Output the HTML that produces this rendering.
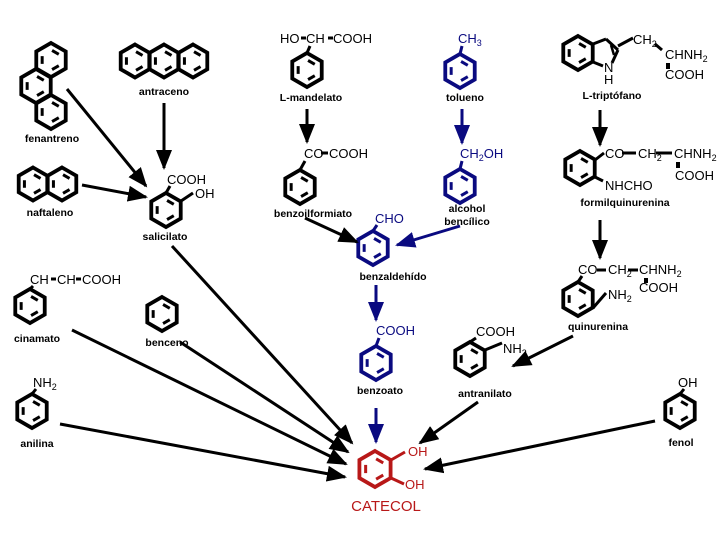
<!DOCTYPE html>
<html><head><meta charset="utf-8"><style>
body{margin:0;background:#fff}
svg text{font-family:"Liberation Sans",Arial,sans-serif}
.f{font-size:13px}
.l{font-size:10.5px;font-weight:bold}
</style></head><body>
<svg id="s" width="720" height="540" viewBox="0 0 720 540" xmlns="http://www.w3.org/2000/svg">
<defs>
<marker id="ak" markerUnits="userSpaceOnUse" markerWidth="20" markerHeight="16" refX="18" refY="8" orient="auto"><path d="M0,0 L20,8 L0,16 Z" fill="#000"/></marker>
<marker id="ab" markerUnits="userSpaceOnUse" markerWidth="20" markerHeight="16" refX="18" refY="8" orient="auto"><path d="M0,0 L20,8 L0,16 Z" fill="#0a0a80"/></marker>
</defs>
<g id="g"></g>
<g fill="#000">
<text class="l" x="164" y="95" text-anchor="middle">antraceno</text>
<text class="l" x="52" y="142" text-anchor="middle">fenantreno</text>
<text class="l" x="50" y="216" text-anchor="middle">naftaleno</text>
<text class="l" x="165" y="240" text-anchor="middle">salicilato</text>
<text class="f" x="167" y="184">COOH</text>
<text class="f" x="195" y="198">OH</text>
<text class="f" x="280" y="43">HO</text><text class="f" x="306" y="43">CH</text><text class="f" x="333" y="43">COOH</text>
<text class="l" x="311" y="101" text-anchor="middle">L-mandelato</text>
<text class="f" x="304" y="158">CO</text><text class="f" x="329" y="158">COOH</text>
<text class="l" x="313" y="217" text-anchor="middle">benzoilformiato</text>
<text class="l" x="465" y="101" text-anchor="middle">tolueno</text>
<text class="l" x="467" y="212" text-anchor="middle">alcohol</text>
<text class="l" x="467" y="225" text-anchor="middle">bencílico</text>
<text class="l" x="393" y="280" text-anchor="middle">benzaldehído</text>
<text class="l" x="380" y="394" text-anchor="middle">benzoato</text>
<text class="l" x="485" y="397" text-anchor="middle">antranilato</text>
<text class="f" x="476" y="336">COOH</text><text class="f" x="503" y="353">NH<tspan font-size="9" dy="3">2</tspan></text>
<text class="f" x="604" y="72">N</text>
<text class="f" x="604" y="84">H</text>
<text class="f" x="633" y="44">CH<tspan font-size="9" dy="3">2</tspan></text>
<text class="f" x="665" y="59">CHNH<tspan font-size="9" dy="3">2</tspan></text>
<text class="f" x="665" y="79">COOH</text>
<text class="l" x="612" y="99" text-anchor="middle">L-triptófano</text>
<text class="f" x="605" y="158">CO</text><text class="f" x="638" y="158">CH<tspan font-size="9" dy="3">2</tspan></text><text class="f" x="674" y="158">CHNH<tspan font-size="9" dy="3">2</tspan></text>
<text class="f" x="675" y="180">COOH</text>
<text class="f" x="605" y="190">NHCHO</text>
<text class="l" x="625" y="206" text-anchor="middle">formilquinurenina</text>
<text class="f" x="578" y="274">CO</text><text class="f" x="608" y="274">CH<tspan font-size="9" dy="3">2</tspan></text><text class="f" x="639" y="274">CHNH<tspan font-size="9" dy="3">2</tspan></text>
<text class="f" x="639" y="292">COOH</text>
<text class="f" x="608" y="299">NH<tspan font-size="9" dy="3">2</tspan></text>
<text class="l" x="598" y="330" text-anchor="middle">quinurenina</text>
<text class="f" x="678" y="387">OH</text>
<text class="l" x="681" y="446" text-anchor="middle">fenol</text>
<text class="f" x="30" y="284">CH</text><text class="f" x="57" y="284">CH</text><text class="f" x="82" y="284">COOH</text>
<text class="l" x="37" y="342" text-anchor="middle">cinamato</text>
<text class="l" x="167" y="346" text-anchor="middle">benceno</text>
<text class="f" x="33" y="387">NH<tspan font-size="9" dy="3">2</tspan></text>
<text class="l" x="37" y="447" text-anchor="middle">anilina</text>
</g>
<g fill="#0a0a80">
<text class="f" x="458" y="43">CH<tspan font-size="9" dy="3">3</tspan></text>
<text class="f" x="460" y="158">CH<tspan font-size="9" dy="3">2</tspan><tspan dy="-3">OH</tspan></text>
<text class="f" x="375" y="223">CHO</text>
<text class="f" x="376" y="335">COOH</text>
</g>
<g fill="#b81818">
<text class="f" x="408" y="456">OH</text>
<text class="f" x="405" y="489">OH</text>
<text x="386" y="511" font-size="15" text-anchor="middle">CATECOL</text>
</g>
</svg>
<script>
var g=document.getElementById('g'),NS='http://www.w3.org/2000/svg';
function el(t,a){var e=document.createElementNS(NS,t);for(var k in a)e.setAttribute(k,a[k]);g.appendChild(e);return e;}
function ring(cx,cy,c,r){r=r||17;var p=[];for(var i=0;i<6;i++){var a=Math.PI/180*(60*i-90);p.push([cx+r*Math.cos(a),cy+r*Math.sin(a)]);}
el('polygon',{points:p.map(function(q){return q.join(',')}).join(' '),fill:'none',stroke:c,'stroke-width':3.8,'stroke-linejoin':'miter'});
[[0,1],[2,3],[4,5]].forEach(function(e){var A=p[e[0]],B=p[e[1]],s=0.6;
var a=[cx+(A[0]-cx)*s,cy+(A[1]-cy)*s],b=[cx+(B[0]-cx)*s,cy+(B[1]-cy)*s];
var m=0.12;el('line',{x1:a[0]+(b[0]-a[0])*m,y1:a[1]+(b[1]-a[1])*m,x2:b[0]-(b[0]-a[0])*m,y2:b[1]-(b[1]-a[1])*m,stroke:c,'stroke-width':3});});}
function ln(x1,y1,x2,y2,c,w){el('line',{x1:x1,y1:y1,x2:x2,y2:y2,stroke:c||'#000','stroke-width':w||3});}
function ar(x1,y1,x2,y2,b){el('line',{x1:x1,y1:y1,x2:x2,y2:y2,stroke:b?'#0a0a80':'#000','stroke-width':3,'marker-end':b?'url(#ab)':'url(#ak)'});}
var K='#000',B='#0a0a80',R='#b81818';
// fenantreno
ring(51,60,K);ring(36,86,K);ring(51,112,K);
// antraceno
ring(135,61,K,16.5);ring(164,61,K,16.5);ring(193,61,K,16.5);
// naftaleno
ring(33,184,K,16.5);ring(62,184,K,16.5);
ring(166,210,K);ln(166,193,170,186);ln(181,201,193,193);
ring(307,70,K);ln(307,53,310,46);ln(301,38,306,38);ln(328,38,333,38);
ring(300,187,K);ln(300,170,305,161);ln(321,153,328,153);
ring(460,71,B);ln(460,54,462,46,B);
ring(460,186,B);ln(460,169,462,161,B);
ring(373,248,B);ln(373,231,377,225,B);
ring(376,363,B);ln(376,346,379,338,B);
ring(375,469,R,18);ln(391,460,405,452,R);ln(391,478,404,484,R);
ring(470,359,K);ln(470,342,476,338);ln(485,350,502,343);
ring(578,299,K);ln(578,282,582,276);ln(593,308,606,293);ln(597,270,606,270);ln(628,270,638,270);ln(646,278,646,283,K,4);
ring(580,168,K);ln(595,160,604,153);ln(595,177,603,181);ln(622,153,636,153);ln(656,153,672,153);ln(678,162,678,168,K,4);
// indole
ring(578,53,K);
ln(593,44,606,39);ln(606,39,618,50);ln(618,50,612,63);ln(593,62,603,66);ln(611,45,614,55,K,2.5);ln(618,46,633,38);ln(655,44,662,50);ln(668,63,668,69,K,4);
ring(680,411,K);ln(680,394,684,389);
ring(30,306,K);ln(30,289,33,286);ln(51,279,56,279);ln(76,279,81,279);
ring(162,314,K);
ring(32,411,K);ln(32,394,36,389);
// arrows
ar(67,89,146,186);ar(82,185,146,197);ar(164,103,164,168);
ar(307,109,307,142);ar(462,109,462,143,1);ar(600,110,600,145);ar(600,220,600,258);
ar(305,218,357,242);ar(460,226,397,245,1);ar(376,285,376,320,1);ar(376,408,376,442,1);
ar(573,336,513,366);ar(478,402,420,443);ar(655,421,425,469);
ar(172,246,352,443);ar(180,342,348,452);ar(72,330,346,464);ar(60,424,345,477);
</script>
</body></html>
